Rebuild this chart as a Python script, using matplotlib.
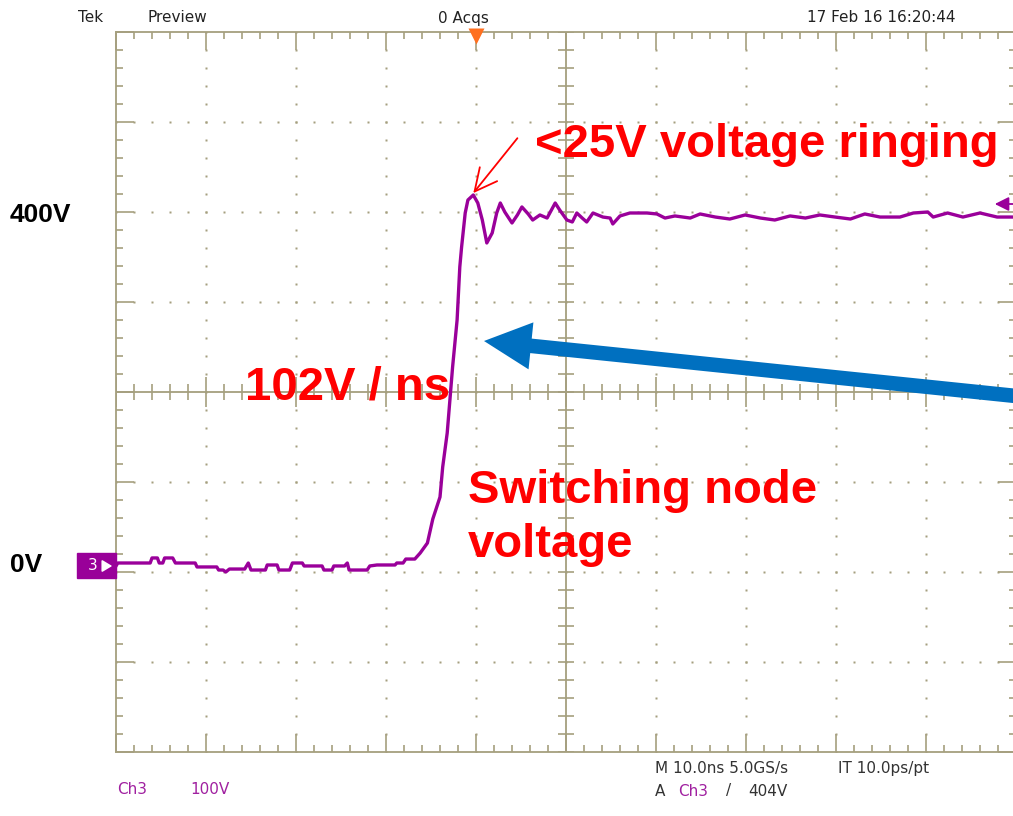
import matplotlib
matplotlib.use("Agg")
import matplotlib.pyplot as plt
import numpy as np
from matplotlib.patches import Rectangle, FancyArrowPatch, ArrowStyle
from matplotlib.collections import LineCollection

# ==================== 数据（读自示波器截图） ====================
# 时间 (ns, 以屏幕中心为 0) / 电压 (V)
t_ns = [-50.0, -49.8, -46.2, -46.0, -45.4, -45.2, -44.8, -44.6, -43.7, -43.4,
        -41.2, -41.0, -38.8, -38.6, -38.1, -37.8, -37.4, -35.7, -35.3, -35.0,
        -33.4, -33.2, -32.1, -31.9, -30.7, -30.4, -29.3, -29.1, -27.1, -26.9,
        -26.0, -25.8, -24.6, -24.3, -24.1, -22.1, -21.8, -21.0, -19.0, -18.8,
        -18.1, -17.8, -16.8, -16.2, -15.4, -14.8, -14.0, -13.7, -13.2, -12.9,
        -12.6, -12.1, -11.8, -11.6, -11.2, -10.9, -10.3, -9.8, -9.3, -8.8,
        -8.2, -7.7, -7.3, -6.8, -6.0, -5.4, -4.9, -4.2, -3.7, -2.9,
        -2.1, -1.2, -0.7, 0.1, 0.7, 1.2, 1.8, 2.3, 3.0, 4.1,
        4.9, 5.2, 6.0, 7.1, 9.0, 10.1, 11.0, 12.1, 13.8, 14.9,
        16.6, 18.2, 19.9, 21.6, 23.2, 24.9, 26.6, 28.2, 29.9, 31.6,
        33.2, 34.9, 37.1, 38.6, 40.2, 40.8, 42.4, 44.1, 46.0, 47.9, 49.7]
v_volts = [6.7, 10.0, 10.0, 15.6, 15.6, 10.0, 10.0, 15.6, 15.6, 10.0,
           10.0, 5.6, 5.6, 2.2, 2.2, 0.0, 3.3, 3.3, 10.0, 2.2,
           2.2, 7.8, 7.8, 2.2, 2.2, 10.0, 10.0, 6.7, 6.7, 2.2,
           2.2, 6.7, 6.7, 10.0, 2.2, 2.2, 6.7, 7.8, 7.8, 10.0,
           10.0, 14.4, 14.4, 21.1, 32.2, 58.9, 83.3, 116.7, 154.4, 191.1,
           227.8, 280.0, 338.9, 361.1, 398.9, 413.3, 418.9, 410.0, 391.1, 365.6,
           376.7, 398.9, 410.0, 400.0, 387.8, 396.7, 405.6, 397.8, 391.1, 396.7,
           393.3, 410.0, 402.2, 391.1, 388.9, 398.9, 393.3, 388.9, 398.9, 394.4,
           393.3, 386.7, 395.6, 398.9, 398.9, 397.8, 393.3, 395.6, 393.3, 397.8,
           394.4, 392.2, 396.7, 393.3, 391.1, 395.6, 393.3, 396.7, 394.4, 392.2,
           397.8, 394.4, 394.4, 398.9, 400.0, 394.4, 398.9, 394.4, 398.9, 394.4, 394.4]

T_LIM = (-50, 50)       # 10 div x 10 ns
V_LIM = (-200, 600)     # 8 div x 100 V
T_DIV, V_DIV = 10, 100
N_MINOR = 5

GRID = '#A59F7E'
TRACE = '#9A009A'
CH_PURPLE = '#A020A0'
RED = '#FF0000'
BLUE = '#0070C0'

W, H = 1013, 816
def fx(x):
    return x / W
def fy(y):
    return 1 - y / H

fig = plt.figure(figsize=(W / 100, H / 100), dpi=100)
fig.patch.set_facecolor('white')
ax = fig.add_axes([fx(116), fy(752), 900 / W, 720 / H])
ax.set_xlim(*T_LIM)
ax.set_ylim(*V_LIM)

# 像素 -> 数据单位换算
px_t = (T_LIM[1] - T_LIM[0]) / 900.0
px_v = (V_LIM[1] - V_LIM[0]) / 720.0

# ==================== 网格 ====================
for s in ax.spines.values():
    s.set_color(GRID)
    s.set_linewidth(1.3)
ax.set_xticks(np.arange(T_LIM[0], T_LIM[1] + 1, T_DIV))
ax.set_xticks(np.arange(T_LIM[0], T_LIM[1] + 0.1, T_DIV / N_MINOR), minor=True)
ax.set_yticks(np.arange(V_LIM[0], V_LIM[1] + 1, V_DIV))
ax.set_yticks(np.arange(V_LIM[0], V_LIM[1] + 0.1, V_DIV / N_MINOR), minor=True)
ax.tick_params(which='both', direction='in', top=True, right=True,
               labelbottom=False, labelleft=False, color=GRID, width=1.2)
ax.tick_params(which='major', length=13)
ax.tick_params(which='minor', length=5)

t_major = np.arange(T_LIM[0] + T_DIV, T_LIM[1], T_DIV)
v_major = np.arange(V_LIM[0] + V_DIV, V_LIM[1], V_DIV)
t_minor = np.arange(T_LIM[0], T_LIM[1] + 0.1, T_DIV / N_MINOR)
v_minor = np.arange(V_LIM[0], V_LIM[1] + 0.1, V_DIV / N_MINOR)
t_mid = 0.5 * (T_LIM[0] + T_LIM[1])
v_mid = 0.5 * (V_LIM[0] + V_LIM[1])

for tm in t_major:
    if tm == t_mid:
        continue
    ax.plot(np.full_like(v_minor, tm), v_minor, ls='none', marker='s',
            ms=1.5, mec='none', mfc=GRID, zorder=1)
for vm in v_major:
    if vm == v_mid:
        continue
    ax.plot(t_minor, np.full_like(t_minor, vm), ls='none', marker='s',
            ms=1.5, mec='none', mfc=GRID, zorder=1)

ax.axvline(t_mid, color=GRID, lw=1.3, zorder=1)
ax.axhline(v_mid, color=GRID, lw=1.3, zorder=1)

segs = []
for tm in t_minor:
    half = (15 if abs((tm - T_LIM[0]) % T_DIV) < 1e-6 else 8) * px_v
    segs.append([(tm, v_mid - half), (tm, v_mid + half)])
for vm in v_minor:
    half = 8 * px_t
    segs.append([(t_mid - half, vm), (t_mid + half, vm)])
ax.add_collection(LineCollection(segs, colors=GRID, linewidths=1.2, zorder=1))

# ==================== 波形 ====================
ax.plot(t_ns, v_volts, color=TRACE, lw=2.4, zorder=5, clip_on=False)

# 触发位置（顶部橙色三角）与触发电平（右侧箭头）
ax.plot(-10, V_LIM[1] - 4 * px_v, marker='v', ms=12, color='#FF7020',
        mec='none', clip_on=False, zorder=6)
fig.patches.append(FancyArrowPatch((1030, H - 204), (992, H - 204),
                                   transform=None, arrowstyle='-|>,head_length=6,head_width=3',
                                   mutation_scale=1.4, color=TRACE, lw=1.3))

# 通道标记 "3 →"
fig.patches.append(Rectangle((fx(77), fy(578)), 39 / W, 25 / H,
                             transform=fig.transFigure, color='#990099', zorder=3))
fig.text(fx(93), fy(566), '3', color='white', fontsize=11, ha='center', va='center')
fig.patches.append(FancyArrowPatch((101, H - 566), (115, H - 566), transform=None,
                                   arrowstyle='-|>,head_length=5,head_width=3',
                                   mutation_scale=1.2, color='white', lw=1.2, zorder=4))

# ==================== 示波器文字 ====================
scope = dict(family='DejaVu Sans', fontsize=11, va='center')
fig.text(fx(78), fy(18), 'Tek', color='#222222', **scope)
fig.text(fx(147), fy(18), 'Preview', color='#222222', **scope)
fig.text(fx(463), fy(18), '0 Acqs', color='#222222', ha='center', **scope)
fig.text(fx(955), fy(18), '17 Feb 16 16:20:44', color='#222222', ha='right', **scope)

fig.text(fx(117), fy(790), 'Ch3', color=CH_PURPLE, **scope)
fig.text(fx(190), fy(790), '100V', color=CH_PURPLE, **scope)
fig.text(fx(655), fy(768), 'M 10.0ns 5.0GS/s', color='#333333', **scope)
fig.text(fx(838), fy(768), 'IT 10.0ps/pt', color='#333333', **scope)
fig.text(fx(655), fy(791), 'A', color='#333333', **scope)
fig.text(fx(678), fy(791), 'Ch3', color=CH_PURPLE, **scope)
fig.text(fx(726), fy(791), '/', color='#333333', **scope)
fig.text(fx(748), fy(791), '404V', color='#333333', **scope)

# ==================== 标注 ====================
bold = dict(family='Liberation Sans', fontweight='bold', va='baseline')
fig.text(fx(10), fy(222), '400V', color='black', fontsize=19, **bold)
fig.text(fx(10), fy(572), '0V', color='black', fontsize=19, **bold)

fig.text(fx(535), fy(157), '<25V voltage ringing', color=RED, fontsize=34, **bold)
fig.text(fx(245), fy(399), '102V / ns', color=RED, fontsize=34, **bold)
fig.text(fx(468), fy(503), 'Switching node', color=RED, fontsize=34, **bold)
fig.text(fx(468), fy(557), 'voltage', color=RED, fontsize=34, **bold)

# 红色细箭头指向振铃峰值
ax.annotate('', xy=(-10.3, 421), xytext=(-5.4, 482),
            arrowprops=dict(arrowstyle='->,head_length=0.8,head_width=0.4',
                            color=RED, lw=1.3, mutation_scale=20,
                            shrinkA=0, shrinkB=0), annotation_clip=False)

# 蓝色粗箭头指向上升沿
blue = FancyArrowPatch((1045, H - 399), (484, H - 341), transform=None,
                       arrowstyle=ArrowStyle.Simple(head_length=34, head_width=34, tail_width=10.5),
                       mutation_scale=1, color=BLUE, lw=0, shrinkA=0, shrinkB=0, zorder=7)
fig.patches.append(blue)

fig.savefig('out.png', dpi=100)
plt.close(fig)
